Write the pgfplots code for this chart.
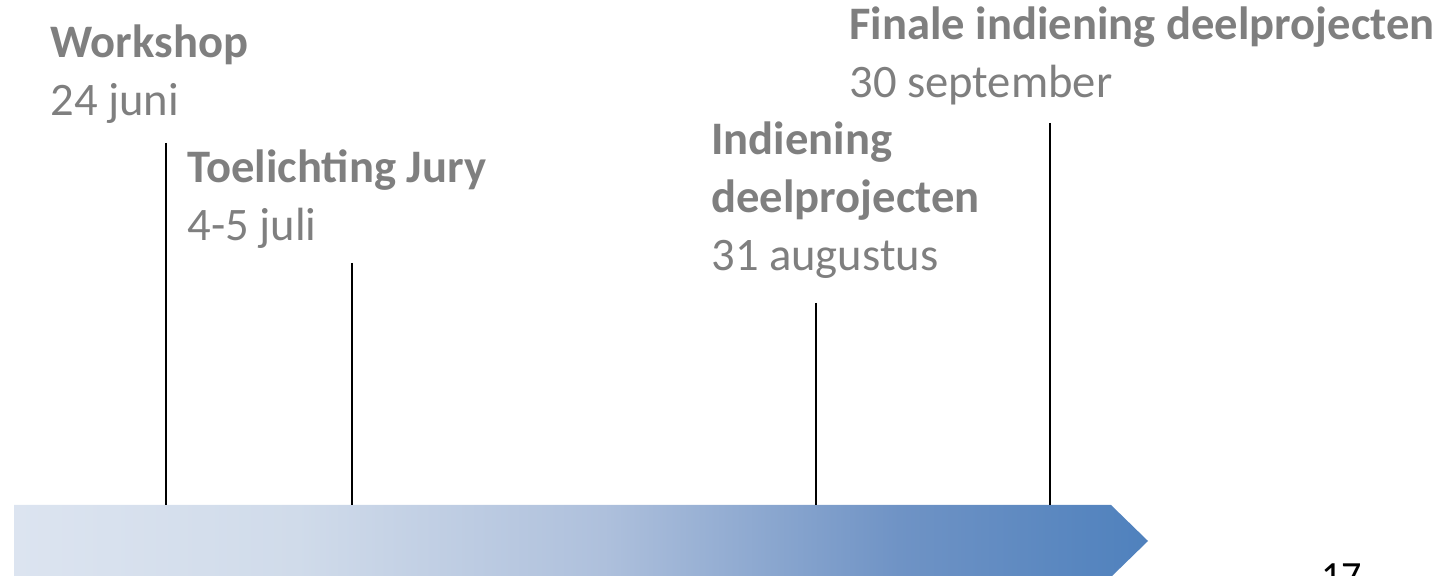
\documentclass[border=0pt]{standalone}
\usepackage{pgfplots}
\pgfplotsset{compat=1.18}
\usepackage{fontspec}
\setmainfont{Carlito}
\definecolor{txtgray}{HTML}{7F7F7F}
\definecolor{arrowA}{HTML}{DCE4F0}
\definecolor{arrowB}{HTML}{D0DBEA}
\definecolor{arrowC}{HTML}{AEC0DC}
\definecolor{arrowD}{HTML}{6F93C5}
\definecolor{arrowE}{HTML}{4F81BD}
\pgfdeclarehorizontalshading{arrowshade}{100bp}{color(0bp)=(arrowA); color(25bp)=(arrowA); color(37.5bp)=(arrowB); color(51bp)=(arrowC); color(64bp)=(arrowD); color(75bp)=(arrowE); color(100bp)=(arrowE)}
\begin{document}
\begin{tikzpicture}
\begin{axis}[
  hide axis, scale only axis,
  width=725.5pt, height=288pt,
  xmin=0, xmax=1451, ymin=0, ymax=576,
  y dir=reverse, clip=false,
]
% timeline arrow
\addplot[draw=none, shading=arrowshade]
  coordinates {(14,505) (1111,505) (1148,541) (1111,577) (14,577)} -- cycle;
% milestone lines
\addplot[black, line width=0.9pt] coordinates {(166,143) (166,505)};
\addplot[black, line width=0.9pt] coordinates {(352,263) (352,505)};
\addplot[black, line width=0.9pt] coordinates {(816,303) (816,505)};
\addplot[black, line width=0.9pt] coordinates {(1050,123) (1050,505)};
% labels
\begin{scope}[every node/.style={anchor=base west, inner sep=0pt, text=txtgray, font=\fontsize{23.3pt}{29pt}\selectfont}]
\node at (axis cs:50,58) {\bfseries Workshop};
\node at (axis cs:50,116) {24 juni};
\node at (axis cs:187,183) {\bfseries Toelichting Jury};
\node at (axis cs:187,241) {4-5 juli};
\node at (axis cs:711,155) {\bfseries Indiening};
\node at (axis cs:711,213) {\bfseries deelprojecten};
\node at (axis cs:711,271) {31 augustus};
\node at (axis cs:849,40) {\bfseries Finale indiening deelprojecten};
\node at (axis cs:849,98) {30 september};
\end{scope}
\node[anchor=base west, inner sep=0pt, font=\fontsize{20pt}{24pt}\selectfont] at (axis cs:1321,590) {17};
\end{axis}
\pgfresetboundingbox
\path[use as bounding box] (0,0) rectangle (725.5pt,288pt);
\end{tikzpicture}
\end{document}
